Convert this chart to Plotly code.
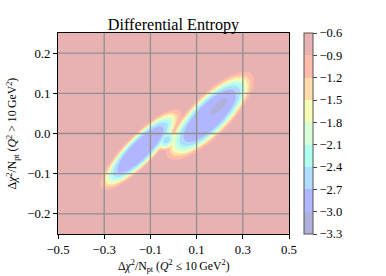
import numpy as np
import plotly.graph_objects as go

# ---- data ----
x_ticks = [-0.5, -0.3, -0.1, 0.1, 0.3, 0.5]
x_ticktext = ["−0.5", "−0.3", "−0.1", "0.1", "0.3", "0.5"]
y_ticks = [-0.2, -0.1, 0.0, 0.1, 0.2]
y_ticktext = ["−0.2", "−0.1", "0.0", "0.1", "0.2"]
levels = [-3.3, -3.0, -2.7, -2.4, -2.1, -1.8, -1.5, -1.2, -0.9, -0.6]
level_text = ["−3.3", "−3.0", "−2.7", "−2.4", "−2.1", "−1.8", "−1.5", "−1.2", "−0.9", "−0.6"]

background_entropy = -0.75
# low-entropy lobes: centre (x, y), half length / half width (plot pixels), floor value, edge sharpness
lobe_cx = [-0.143, 0.157, 0.197, -0.030]
lobe_cy = [-0.040, 0.044, 0.068, -0.016]
lobe_len = [44.0, 47.0, 22.0, 9.0]
lobe_wid = [12.0, 16.0, 7.0, 6.5]
lobe_floor = [-2.90, -2.95, -3.12, -2.45]
lobe_sharp = [6.0, 6.0, 4.0, 4.0]

band_colors = ["#b0b0dc", "#b0b6ff", "#b0dcff", "#b0fff0", "#d8ffd8",
               "#f4ffb4", "#ffdcaa", "#ffbcaa", "#e8b2b2"]

# ---- field on a grid ----
xs = np.linspace(-0.5, 0.5, 241)
ys = np.linspace(-0.25, 0.25, 201)
X, Y = np.meshgrid(xs, ys)
PX, PY = X * 231.0, Y * 402.0
Z = np.full(X.shape, background_entropy)
c = np.sqrt(0.5)
for cx, cy, a, b, zf, q in zip(lobe_cx, lobe_cy, lobe_len, lobe_wid, lobe_floor, lobe_sharp):
    dx, dy = PX - cx * 231.0, PY - cy * 402.0
    s = (dx + dy) * c
    t = (dy - dx) * c
    R = np.sqrt((s / a) ** 2 + (t / b) ** 2)
    f = np.exp(-np.log(2) * R ** q)
    Z = np.minimum(Z, background_entropy + (zf - background_entropy) * f)
Z = np.clip(Z, -3.29, -0.61)

# colour scale for the filled contour (plotly samples band k at 0.1*(k+1))
cs = [[0.0, band_colors[0]]]
for i, col in enumerate(band_colors):
    cs.append([0.1 * (i + 1), col])
cs.append([1.0, band_colors[-1]])

# stepwise scale for the colour bar, spanning exactly the contour levels
nb = len(band_colors)
cb_scale = []
for i, col in enumerate(band_colors):
    cb_scale.append([i / nb, col])
    cb_scale.append([(i + 1) / nb, col])

fig = go.Figure()
fig.add_trace(go.Contour(
    x=xs, y=ys, z=Z,
    contours=dict(start=levels[0], end=levels[-1], size=0.3, coloring="fill", showlines=False),
    line=dict(width=0),
    colorscale=cs, showscale=False,
    hoverinfo="skip",
))
fig.add_trace(go.Scatter(
    x=[None], y=[None], mode="markers", hoverinfo="skip",
    marker=dict(
        color=[levels[0]], cmin=levels[0], cmax=levels[-1], colorscale=cb_scale, showscale=True,
        colorbar=dict(
            x=(304 - 58) / 231, xanchor="left", xpad=0,
            y=0.5, yanchor="middle", ypad=0, len=1, lenmode="fraction",
            thickness=9, outlinewidth=1, outlinecolor="#555555",
            tickvals=levels, ticktext=level_text, ticks="outside", ticklen=4,
            tickcolor="#444444", tickfont=dict(family="Liberation Serif", size=12.5, color="black"),
        ),
    ),
))

grid_col = "#8f8f8f"
for xv in x_ticks:
    if -0.5 < xv < 0.5:
        fig.add_shape(type="line", xref="x", yref="paper", x0=xv, x1=xv, y0=0, y1=1,
                      line=dict(color=grid_col, width=1.3), layer="above")
for yv in y_ticks:
    if -0.25 < yv < 0.25:
        fig.add_shape(type="line", xref="paper", yref="y", x0=0, x1=1, y0=yv, y1=yv,
                      line=dict(color=grid_col, width=1.3), layer="above")

font = dict(family="Liberation Serif", size=12.8, color="black")
label_font = dict(family="Liberation Serif", size=11.8, color="black")
fig.update_layout(
    width=386, height=276,
    margin=dict(l=58, r=97, t=33, b=42),
    paper_bgcolor="white", plot_bgcolor="white",
    font=font,
    showlegend=False,
    title=dict(text="Differential Entropy", x=0.5, xref="paper", xanchor="center",
               y=(276 - 24) / 276, yref="container", yanchor="middle",
               font=dict(family="Liberation Serif", size=16.2, color="black")),
    xaxis=dict(range=[-0.5, 0.5], tickvals=x_ticks, ticktext=x_ticktext, showgrid=False,
               zeroline=False, showline=True, mirror=True, linecolor="black", linewidth=1,
               ticks="outside", ticklen=4, tickcolor="black", tickfont=font),
    yaxis=dict(range=[-0.25, 0.25], tickvals=y_ticks, ticktext=y_ticktext, showgrid=False,
               zeroline=False, showline=True, mirror=True, linecolor="black", linewidth=1,
               ticks="outside", ticklen=4, tickcolor="black", tickfont=font),
    annotations=[
        dict(text="Δ<i>χ</i><sup>2</sup>/N<sub>pt</sub> (<i>Q</i><sup>2</sup> ≤ 10\u2009GeV<sup>2</sup>)",
             xref="paper", yref="paper", x=0.5, y=(234.3 - 266.5) / 201, xanchor="center",
             yanchor="middle", showarrow=False, font=label_font),
        dict(text="Δ<i>χ</i><sup>2</sup>/N<sub>pt</sub> (<i>Q</i><sup>2</sup> > 10\u2009GeV<sup>2</sup>)",
             xref="paper", yref="paper", x=(12 - 58) / 231, y=0.5, xanchor="center",
             yanchor="middle", textangle=-90, showarrow=False, font=label_font),
    ],
)

fig.write_html("out.html", config={"displayModeBar": False},
               post_script="document.body.style.margin='0';document.body.style.padding='0';")
